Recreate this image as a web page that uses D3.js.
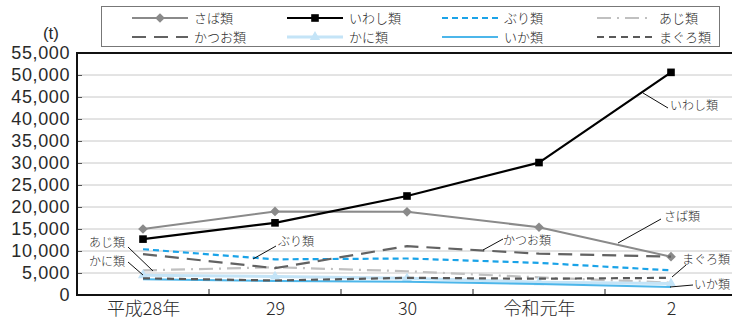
<!DOCTYPE html>
<html lang="ja">
<head>
<meta charset="utf-8">
<script src="https://cdn.jsdelivr.net/npm/d3@7"></script>
<style>
  html, body { margin: 0; padding: 0; background: #fff; }
  svg { display: block; }
  text { font-family: "Noto Sans CJK JP", "Noto Sans", sans-serif; font-weight: 300; fill: #2a2a2a; }
</style>
</head>
<body>
<svg id="chart" width="732" height="320"></svg>
<script>
// 魚種別の数量（t）
const categories = ["平成28年", "29", "30", "令和元年", "2"];
const saba   = [15000, 19000, 18900, 15400, 8700];   // さば類
const iwashi = [12700, 16400, 22500, 30100, 50600];  // いわし類
const buri   = [10400, 8100, 8300, 7300, 5600];      // ぶり類
const aji    = [5600, 6300, 5400, 4000, 2800];       // あじ類
const katsuo = [9300, 6100, 11100, 9400, 8700];      // かつお類
const kani   = [4500, 4200, 3800, 2900, 2600];       // かに類
const ika    = [3600, 3200, 3000, 2500, 1800];       // いか類
const maguro = [3800, 3300, 3900, 3700, 3900];       // まぐろ類
const yTicks = [0, 5000, 10000, 15000, 20000, 25000, 30000, 35000, 40000, 45000, 50000, 55000];

const series = [
  { name: "さば類",   values: saba,   color: "#8a8a8a", width: 2,   dash: null,    marker: "diamond" },
  { name: "いわし類", values: iwashi, color: "#000000", width: 2.2, dash: null,    marker: "square" },
  { name: "ぶり類",   values: buri,   color: "#1aa3e8", width: 2.2, dash: "6,4",   marker: null },
  { name: "あじ類",   values: aji,    color: "#c0c0c0", width: 2.2, dash: "14,6,2,6", marker: null },
  { name: "かつお類", values: katsuo, color: "#626262", width: 2.2, dash: "14,8",  marker: null },
  { name: "かに類",   values: kani,   color: "#c4e4f7", width: 3,   dash: null,    marker: "triangle" },
  { name: "いか類",   values: ika,    color: "#4cb6ea", width: 2,   dash: null,    marker: null },
  { name: "まぐろ類", values: maguro, color: "#595959", width: 2.2, dash: "7,5",   marker: null }
];

const svg = d3.select("#chart");
const plot = { left: 77, right: 737, top: 53, bottom: 295 };

const x = d3.scalePoint().domain(categories).range([plot.left, plot.right]).padding(0.5);
const y = d3.scaleLinear().domain([0, 55000]).range([plot.bottom, plot.top]);

// 目盛線
svg.append("g")
  .selectAll("line")
  .data(yTicks.filter(d => d > 0 && d < 55000))
  .join("line")
  .attr("x1", plot.left).attr("x2", plot.right)
  .attr("y1", d => y(d)).attr("y2", d => y(d))
  .attr("stroke", "#c8c8c8").attr("stroke-width", 1);

// Y軸
const yAxis = svg.append("g")
  .attr("transform", `translate(${plot.left},0)`)
  .call(d3.axisLeft(y).tickValues(yTicks).tickSize(-5).tickPadding(7)
    .tickFormat(d3.format(",")));
yAxis.select(".domain").remove();
yAxis.selectAll(".tick line").attr("stroke", "#555");
yAxis.selectAll("text")
  .style("font-family", "'Liberation Sans', Arial, sans-serif")
  .style("font-size", "18px").style("letter-spacing", "0.6px").attr("fill", "#2a2a2a");

svg.append("text").attr("x", 59).attr("y", 39).attr("text-anchor", "end")
  .style("font-family", "'Liberation Sans', Arial, sans-serif")
  .style("font-size", "17px").text("(t)");

// X軸
const bandStep = x.step();
const xAxis = svg.append("g")
  .attr("transform", `translate(0,${plot.bottom})`)
  .call(d3.axisBottom(x).tickSize(0).tickPadding(7));
xAxis.select(".domain").remove();
xAxis.selectAll("text").style("font-size", "18px").attr("fill", "#2a2a2a");
// 区切り目盛（内向き）
svg.append("g").selectAll("line")
  .data(categories.slice(1))
  .join("line")
  .attr("x1", d => x(d) - bandStep / 2).attr("x2", d => x(d) - bandStep / 2)
  .attr("y1", plot.bottom).attr("y2", plot.bottom - 6)
  .attr("stroke", "#222").attr("stroke-width", 1);

// 枠
svg.append("path")
  .attr("d", `M${plot.right},${plot.top}H${plot.left}V${plot.bottom}H${plot.right}`)
  .attr("fill", "none").attr("stroke", "#111").attr("stroke-width", 2);

// 折れ線
const line = d3.line().x((d, i) => x(categories[i])).y(d => y(d));
const markerPath = {
  diamond: d3.symbol().type(d3.symbolDiamond2).size(60),
  square: d3.symbol().type(d3.symbolSquare).size(58),
  triangle: d3.symbol().type(d3.symbolTriangle).size(45)
};

series.forEach(s => {
  const g = svg.append("g");
  g.append("path")
    .datum(s.values)
    .attr("d", line)
    .attr("fill", "none")
    .attr("stroke", s.color)
    .attr("stroke-width", s.width)
    .attr("stroke-dasharray", s.dash)
    .attr("stroke-linejoin", "round");
  if (s.marker) {
    g.selectAll("path.mk")
      .data(s.values)
      .join("path")
      .attr("class", "mk")
      .attr("d", markerPath[s.marker])
      .attr("transform", (d, i) => `translate(${x(categories[i])},${y(d)})`)
      .attr("fill", s.color);
  }
});

// 系列名の引出し線と注記
const notes = [
  { text: "いわし類", from: [643, 93],  to: [668, 108], tx: 670, ty: 110 },
  { text: "さば類",   from: [618, 243], to: [661, 219], tx: 664, ty: 221 },
  { text: "まぐろ類", from: [672, 277], to: [686, 265], tx: 682, ty: 264 },
  { text: "いか類",   from: [670, 287], to: [693, 285], tx: 694, ty: 289 },
  { text: "かつお類", from: [483, 250], to: [503, 239], tx: 503, ty: 245 },
  { text: "ぶり類",   from: [253, 259], to: [276, 246], tx: 278, ty: 246 },
  { text: "あじ類",   from: [153, 271], to: [128, 247], tx: 89,  ty: 247 },
  { text: "かに類",   from: [143, 275], to: [128, 262], tx: 89,  ty: 266 }
];
const ng = svg.append("g");
notes.forEach(n => {
  ng.append("line")
    .attr("x1", n.from[0]).attr("y1", n.from[1])
    .attr("x2", n.to[0]).attr("y2", n.to[1])
    .attr("stroke", "#111").attr("stroke-width", 1);
  ng.append("text").attr("x", n.tx).attr("y", n.ty)
    .style("font-size", "12px").text(n.text);
});

// 凡例
const legend = svg.append("g");
legend.append("rect")
  .attr("x", 101.5).attr("y", 6.5).attr("width", 618).attr("height", 40)
  .attr("fill", "#fff").attr("stroke", "#777").attr("stroke-width", 1);
const colX = [132, 287, 442, 597];
const rowY = [18, 37];
series.forEach((s, i) => {
  const cx = colX[i % 4], cy = rowY[Math.floor(i / 4)];
  const item = legend.append("g");
  item.append("line")
    .attr("x1", cx).attr("x2", cx + 56).attr("y1", cy).attr("y2", cy)
    .attr("stroke", s.color).attr("stroke-width", s.width)
    .attr("stroke-dasharray", s.dash);
  if (s.marker) {
    item.append("path")
      .attr("d", markerPath[s.marker])
      .attr("transform", `translate(${cx + 28},${cy})`)
      .attr("fill", s.color);
  }
  item.append("text").attr("x", cx + 62).attr("y", cy + 4.5)
    .style("font-size", "13px").text(s.name);
});
</script>
</body>
</html>
